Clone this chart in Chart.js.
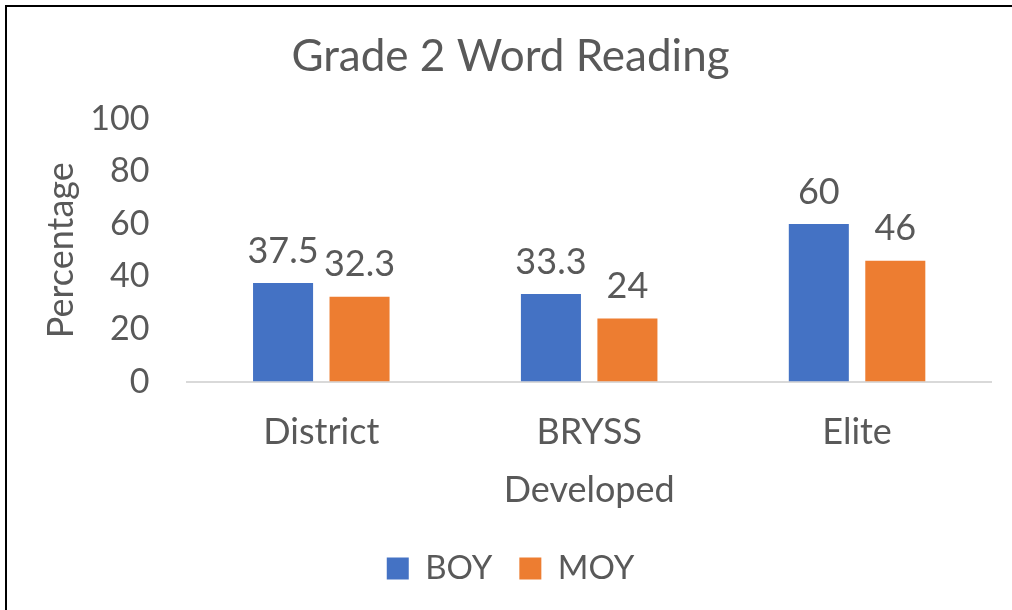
<!DOCTYPE html>
<html>
<head>
<meta charset="utf-8">
<script src="https://cdn.jsdelivr.net/npm/chart.js@4/dist/chart.umd.min.js"></script>
<style>
  html, body { margin: 0; padding: 0; background: #fff; }
  #wrap { position: relative; width: 1012px; height: 610px; overflow: hidden; }
  #frame { position: absolute; left: 5px; top: 5px; width: 1100px; height: 700px;
           border-left: 2px solid #000; border-top: 2px solid #000; }
  canvas { position: absolute; left: 0; top: 0; }
</style>
</head>
<body>
<div id="wrap">
  <div id="frame"></div>
  <canvas id="chart" width="1012" height="610"></canvas>
</div>
<script>
// dados do gráfico
const categorias = ['District', 'BRYSS', 'Elite'];
const valoresBOY = [37.5, 33.3, 60];
const valoresMOY = [32.3, 24, 46];
const ticksY = [0, 20, 40, 60, 80, 100];

const corTexto = '#595959';
const fonte = 'Lato, "Open Sans", sans-serif';

// rótulos de valor acima das barras
const rotulosPlugin = {
    id: 'rotulos',
    afterDatasetsDraw(chart) {
        const ctx = chart.ctx;
        ctx.save();
        ctx.font = '36px ' + fonte;
        ctx.fillStyle = corTexto;
        ctx.textAlign = 'center';
        ctx.textBaseline = 'middle';
        chart.data.datasets.forEach((ds, i) => {
            chart.getDatasetMeta(i).data.forEach((bar, j) => {
                ctx.fillText(String(ds.data[j]), bar.x, bar.y - 32);
            });
        });
        ctx.restore();
    }
};

new Chart(document.getElementById('chart'), {
    type: 'bar',
    data: {
        labels: categorias,
        datasets: [
            { label: 'BOY', data: valoresBOY, backgroundColor: '#4472C4',
              categoryPercentage: 0.571, barPercentage: 0.785 },
            { label: 'MOY', data: valoresMOY, backgroundColor: '#ED7D31',
              categoryPercentage: 0.571, barPercentage: 0.785 }
        ]
    },
    options: {
        responsive: false,
        animation: false,
        layout: { padding: { left: 30, right: 21, top: 22, bottom: 15 } },
        plugins: {
            title: {
                display: true,
                text: 'Grade 2 Word Reading',
                color: corTexto,
                font: { family: fonte, size: 44, weight: 'normal' },
                padding: { top: 8, bottom: 36 }
            },
            legend: {
                position: 'bottom',
                labels: {
                    color: corTexto,
                    font: { family: fonte, size: 33 },
                    boxWidth: 22, boxHeight: 22,
                    padding: 27
                }
            },
            tooltip: { enabled: false }
        },
        scales: {
            y: {
                min: 0, max: 100,
                afterBuildTicks: axis => { axis.ticks = ticksY.map(v => ({ value: v })); },
                grid: { display: false, drawTicks: false },
                border: { display: false },
                ticks: { color: corTexto, font: { family: fonte, size: 34 }, padding: 38 },
                title: { display: true, text: 'Percentage', color: corTexto,
                         font: { family: fonte, size: 36 }, padding: { top: 10, bottom: -31 } }
            },
            x: {
                grid: { display: false, drawTicks: false },
                border: { color: '#D9D9D9', width: 2 },
                ticks: { color: corTexto, font: { family: fonte, size: 36 }, padding: 29 },
                title: { display: true, text: 'Developed', color: corTexto,
                         font: { family: fonte, size: 36 }, padding: { top: -14, bottom: 13 } }
            }
        }
    },
    plugins: [rotulosPlugin]
});
</script>
</body>
</html>
